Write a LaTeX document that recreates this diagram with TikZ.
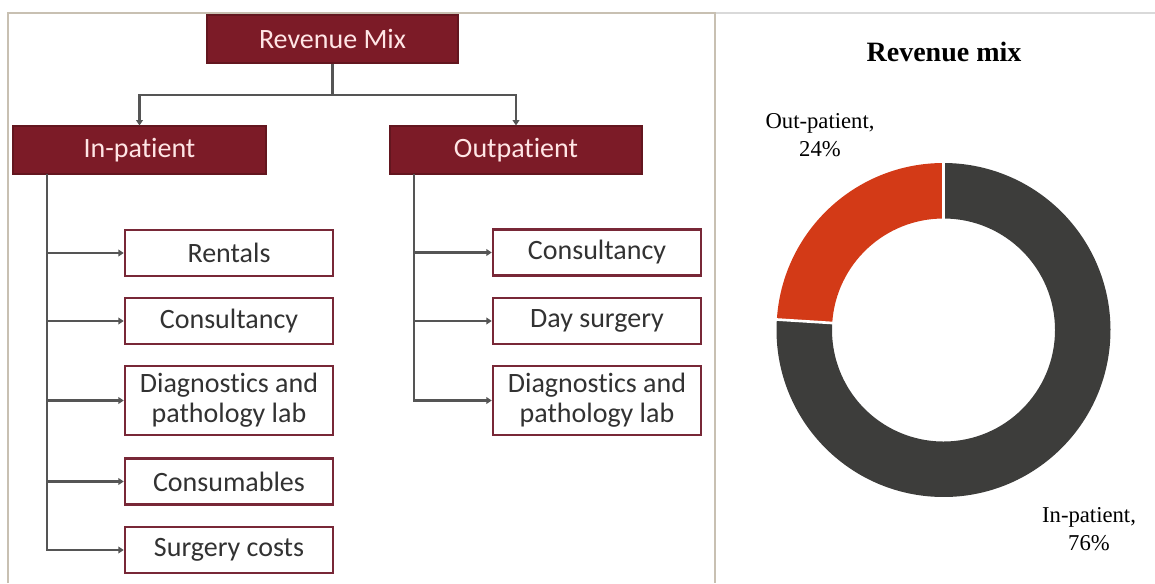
\documentclass[tikz,border=0pt]{standalone}
\usepackage{fontspec}
\setmainfont{Liberation Serif}
\newfontfamily\carl[Ligatures=NoCommon]{Carlito}
\usetikzlibrary{arrows.meta}
\definecolor{hdr}{RGB}{124,27,39}
\definecolor{bord}{RGB}{120,40,55}
\definecolor{conn}{RGB}{85,85,85}
\definecolor{framec}{RGB}{200,192,178}
\definecolor{inpc}{RGB}{61,61,59}
\definecolor{outc}{RGB}{211,58,23}
\definecolor{txtc}{RGB}{50,50,50}
\begin{document}
\begin{tikzpicture}[x=0.75pt,y=-0.75pt,
  hdrbox/.style={fill=hdr, draw=hdr!80!black, line width=0.8pt, text=white!90!red,
    minimum width=189pt, minimum height=36pt, inner sep=0pt,
    font=\carl\fontsize{21}{22}\selectfont},
  kidbox/.style={fill=white, draw=bord, line width=1.9pt, text=txtc,
    minimum width=156pt, minimum height=34.5pt, inner sep=0pt, align=center,
    font=\carl\fontsize{21}{22.5}\selectfont},
  tallbox/.style={kidbox, minimum height=51.75pt},
  link/.style={draw=conn, line width=1.8pt},
  arr/.style={link, -{Triangle[length=4pt,width=5pt]}},
  pielabel/.style={align=center, font=\fontsize{17}{21}\selectfont}
]
\useasboundingbox (0,0) rectangle (1155,583);
% frames
\draw[framec, line width=1.5pt] (8,583) -- (8,13) -- (715,13) -- (715,583);
\draw[black!15, line width=1.5pt] (716,13) -- (1155,13);

% header boxes
\node[hdrbox, minimum width=188.25pt] (rev) at (332.5,39) {Revenue Mix};
\node[hdrbox, minimum width=189.75pt] (inp) at (139.5,150) {In-patient};
\node[hdrbox] (outp) at (516,150) {Outpatient};

% in-patient children
\node[kidbox] (rent) at (229,253) {Rentals};
\node[kidbox] (icons) at (229,321) {Consultancy};
\node[tallbox] (idiag) at (229,400.5) {Diagnostics and\\pathology lab};
\node[kidbox] (cons) at (229,481.5) {Consumables};
\node[kidbox] (surg) at (229,550) {Surgery costs};

% outpatient children
\node[kidbox] (ocons) at (597,252.5) {Consultancy};
\node[kidbox] (day) at (597,321) {Day surgery};
\node[tallbox] (odiag) at (597,400.5) {Diagnostics and\\pathology lab};

% connectors
\coordinate (j) at (332.5,95);
\draw[link] (rev.south) -- (j);
\draw[arr] (j) -| (inp.north);
\draw[arr] (j) -| (outp.north);

\coordinate (it) at (47,174);
\foreach \k in {rent,icons,idiag,cons,surg}{
  \draw[arr] (it) |- (\k.west);
}
\coordinate (ot) at (414,174);
\foreach \k in {ocons,day,odiag}{
  \draw[arr] (ot) |- (\k.west);
}

% donut chart
\node[font=\bfseries\fontsize{21}{25}\selectfont] (title) at (944,52) {Revenue mix};
\begin{scope}[shift={(943.5,330)}, y=0.75pt]
  \fill[outc] (90:167) arc[start angle=90, end angle=176.4, radius=167]
     -- (176.4:111.5) arc[start angle=176.4, end angle=90, radius=111.5] -- cycle;
  \fill[inpc] (176.4:167) arc[start angle=176.4, end angle=450, radius=167]
     -- (90:111.5) arc[start angle=450, end angle=176.4, radius=111.5] -- cycle;
  \draw[white, line width=2pt] (90:109) -- (90:169);
  \draw[white, line width=2pt] (176.4:109) -- (176.4:169);
\end{scope}
\node[pielabel] (lout) at (820,135) {Out-patient,\\24\%};
\node[pielabel] (lin) at (1089,529) {In-patient,\\76\%};
\end{tikzpicture}
\end{document}
